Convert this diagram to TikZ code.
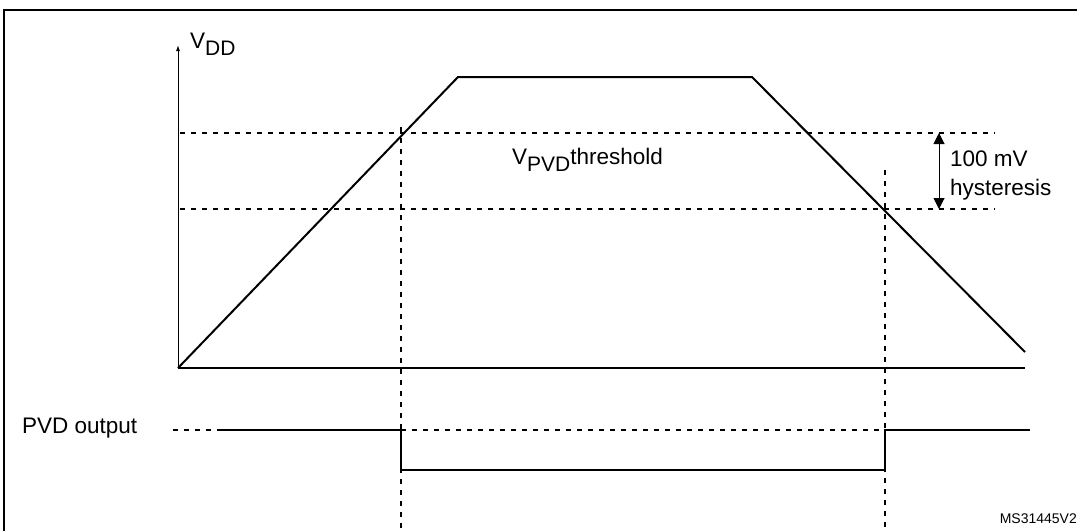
\documentclass[tikz,border=0pt]{standalone}
\usepackage{fontspec}
\setmainfont{Liberation Sans}
\usetikzlibrary{arrows.meta}
\newcommand{\mysub}[1]{\raisebox{-0.3em}{\fontsize{21}{23}\selectfont #1}}
\begin{document}
\begin{tikzpicture}[x=1pt,y=-1pt,
  dsh/.style={dash pattern=on 5pt off 6pt, line width=1.1pt},
  sig/.style={line width=2pt},
  lbl/.style={font=\fontsize{22.5}{25}\selectfont, inner sep=0pt}]
\useasboundingbox (0,0) rectangle (1077,531);
\draw[line width=1.5pt] (4,531) -- (4,10) -- (1080,10);
% axes
\coordinate (o) at (178,368);
\coordinate (ytop) at (178,45);
\coordinate (xend) at (1025,368);
\draw[line width=1pt,-{Latex[length=6pt,width=4pt]}] (o) -- (ytop);
\draw[line width=1.3pt] (o) -- (xend);
\node[lbl,anchor=west] (vdd) at (190,44) {V\mysub{DD}};
% trapezoid
\coordinate (t1) at (458,77);
\coordinate (t2) at (752,77);
\coordinate (t3) at (1025,352);
\draw[sig] (o) -- (t1) -- (t2) -- (t3);
% thresholds
\coordinate (h1a) at (180,133); \coordinate (h1b) at (995,133);
\coordinate (h2a) at (180,209); \coordinate (h2b) at (995,209);
\draw[dsh] (h1a) -- (h1b);
\draw[dsh] (h2a) -- (h2b);
\coordinate (v1a) at (401,127); \coordinate (v1b) at (401,531);
\coordinate (v2a) at (885,170); \coordinate (v2b) at (885,531);
\draw[dsh] (v1a) -- (v1b);
\draw[dsh] (v2a) -- (v2b);
\node[lbl,anchor=west] (thr) at (512,160) {V\mysub{PVD}threshold};
% hysteresis
\coordinate (ha) at (939,133); \coordinate (hb) at (939,209);
\draw[line width=1pt,{Triangle[length=11pt,width=11pt]}-{Triangle[length=11pt,width=11pt]}] (ha) -- (hb);
\node[lbl,anchor=west] (h100) at (950,159) {100 mV};
\node[lbl,anchor=west] (hys) at (950,190) {hysteresis};
% PVD output
\node[lbl,anchor=west] (pvd) at (22,428) {PVD output};
\coordinate (p0) at (173,430); \coordinate (p1) at (218,430);
\coordinate (p2) at (401,430); \coordinate (p3) at (401,470);
\coordinate (p4) at (885,470); \coordinate (p5) at (885,430);
\coordinate (p6) at (1030,430);
\draw[dsh] (p0) -- (p1);
\draw[dsh] (p2) -- (p5);
\draw[sig] (p1) -- (p2) -- (p3) -- (p4) -- (p5) -- (p6);
\node[font=\fontsize{14}{15}\selectfont,anchor=east,inner sep=0pt] (ms) at (1077,519) {MS31445V2};
\end{tikzpicture}
\end{document}
